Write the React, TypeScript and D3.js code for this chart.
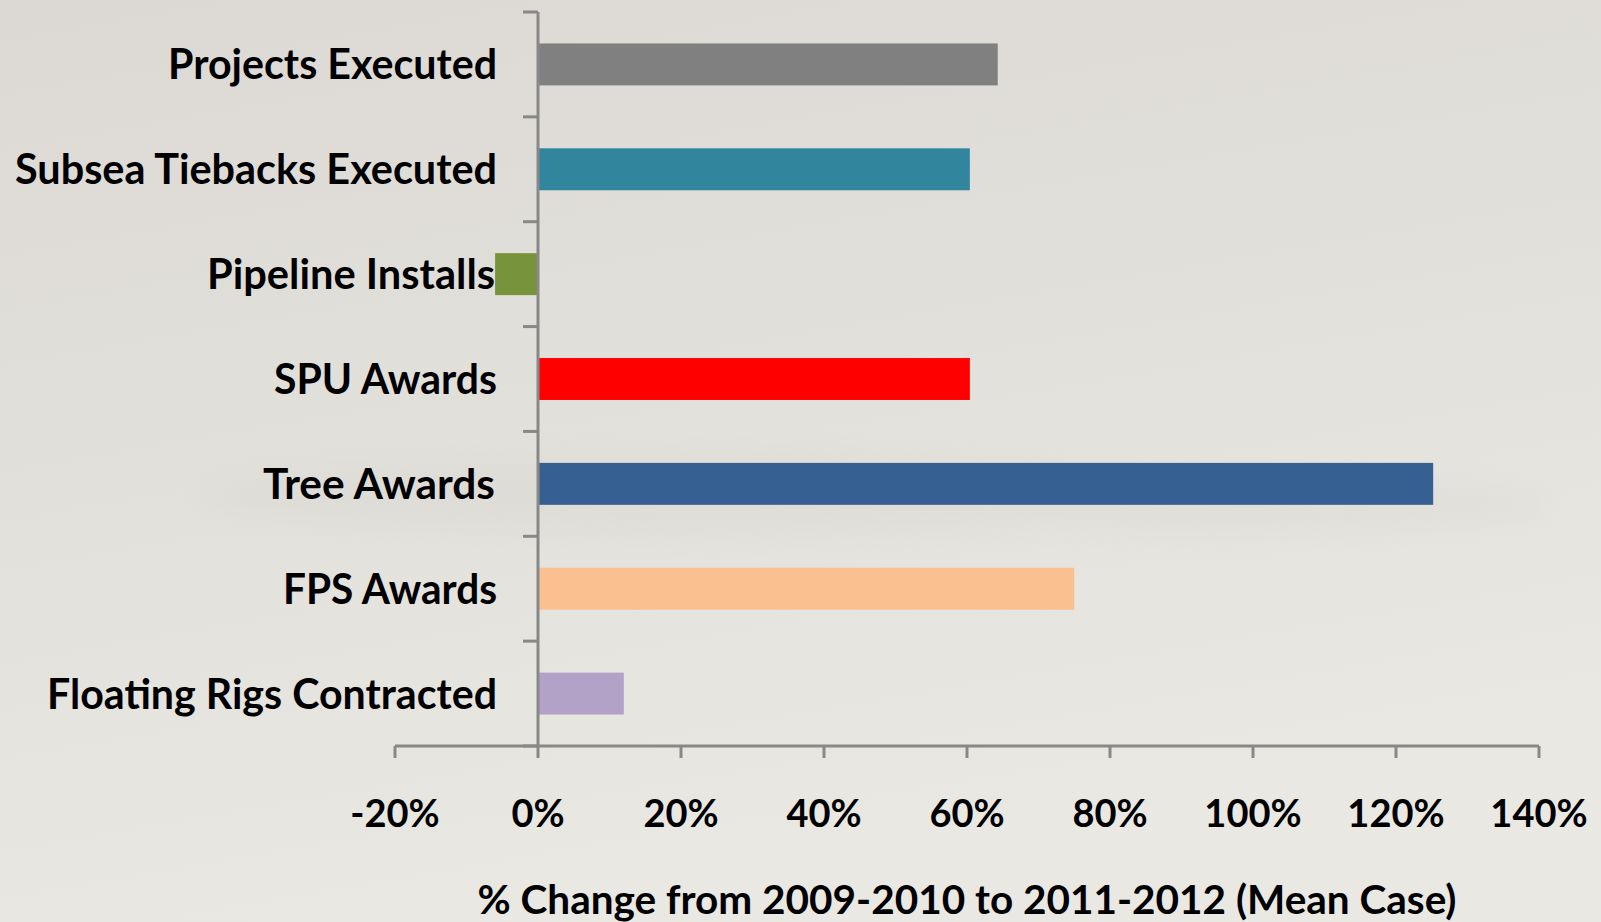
import React from "react";
import * as d3 from "d3";

const categories = [
  "Projects Executed",
  "Subsea Tiebacks Executed",
  "Pipeline Installs",
  "SPU Awards",
  "Tree Awards",
  "FPS Awards",
  "Floating Rigs Contracted",
];
const values = [64.3, 60.4, -6, 60.4, 125.2, 75, 12];
const colors = ["#808080", "#31859C", "#77933C", "#FF0000", "#376092", "#FAC090", "#B3A2C7"];
const labelWidths = [329, 482, 288, 223, 232, 214, 450];
const xTicks = [-20, 0, 20, 40, 60, 80, 100, 120, 140];
const xTitle = "% Change from 2009-2010 to 2011-2012 (Mean Case)";

const W = 1601;
const H = 922;
const FONT = "Lato, 'Open Sans', sans-serif";

export default function App() {
  const x = d3.scaleLinear().domain([-20, 140]).range([395, 1539]);
  const y = d3
    .scaleBand<string>()
    .domain(categories)
    .range([12, 746])
    .paddingInner(0.6)
    .paddingOuter(0.3);
  const step = y.step();
  const x0 = x(0);
  const axisColor = "#888888";
  const bounds = d3.range(categories.length + 1).map((i) => 12 + i * step);

  return (
    <svg
      width={W}
      height={H}
      style={{ position: "absolute", left: 0, top: 0 }}
      xmlns="http://www.w3.org/2000/svg"
    >
      <defs>
        <linearGradient id="bg" x1="0" y1="0" x2="0.3" y2="1">
          <stop offset="0" stopColor="#dcd9d4" />
          <stop offset="0.5" stopColor="#e2e0db" />
          <stop offset="1" stopColor="#e9e8e3" />
        </linearGradient>
        <filter id="blur" x="-20%" y="-50%" width="140%" height="200%">
          <feGaussianBlur stdDeviation="14" />
        </filter>
      </defs>
      <rect x={0} y={0} width={W} height={H} fill="url(#bg)" />
      <g filter="url(#blur)" opacity={0.22}>
        <ellipse cx={720} cy={495} rx={520} ry={40} fill="#cfccc6" />
        <ellipse cx={1250} cy={505} rx={300} ry={28} fill="#d2cfc9" />
      </g>

      {/* bars */}
      {categories.map((c, i) => {
        const v = values[i];
        const xa = Math.min(x(v), x0);
        const w = Math.abs(x(v) - x0);
        return (
          <rect
            key={c}
            x={xa}
            y={y(c)!}
            width={w}
            height={y.bandwidth()}
            fill={colors[i]}
          />
        );
      })}

      {/* y axis */}
      <line x1={x0} x2={x0} y1={12} y2={747} stroke={axisColor} strokeWidth={3} />
      {bounds.map((b, i) => (
        <line key={i} x1={x0 - 15} x2={x0} y1={b} y2={b} stroke={axisColor} strokeWidth={3} />
      ))}

      {/* x axis */}
      <line x1={x(-20)} x2={x(140)} y1={746} y2={746} stroke={axisColor} strokeWidth={3} />
      {xTicks.map((t) => (
        <line key={t} x1={x(t)} x2={x(t)} y1={746} y2={758} stroke={axisColor} strokeWidth={3} />
      ))}

      {/* category labels */}
      {categories.map((c, i) => (
        <text
          key={c}
          x={c === "Pipeline Installs" || c === "Tree Awards" ? 495 : 497}
          y={y(c)! + y.bandwidth() / 2 + 15}
          textAnchor="end"
          fontFamily={FONT}
          fontWeight={700}
          fontSize={42}
          fill="#000"
          textLength={labelWidths[i]}
          lengthAdjust="spacingAndGlyphs"
        >
          {c}
        </text>
      ))}

      {/* tick labels */}
      {xTicks.map((t) => (
        <text
          key={t}
          x={x(t)}
          y={827}
          textAnchor="middle"
          fontFamily={FONT}
          fontWeight={700}
          fontSize={38}
          fill="#000"
        >
          {t + "%"}
        </text>
      ))}

      {/* axis title */}
      <text
        x={967}
        y={914}
        textAnchor="middle"
        fontFamily={FONT}
        fontWeight={700}
        fontSize={40}
        fill="#000"
        textLength={979}
        lengthAdjust="spacingAndGlyphs"
      >
        {xTitle}
      </text>
    </svg>
  );
}
